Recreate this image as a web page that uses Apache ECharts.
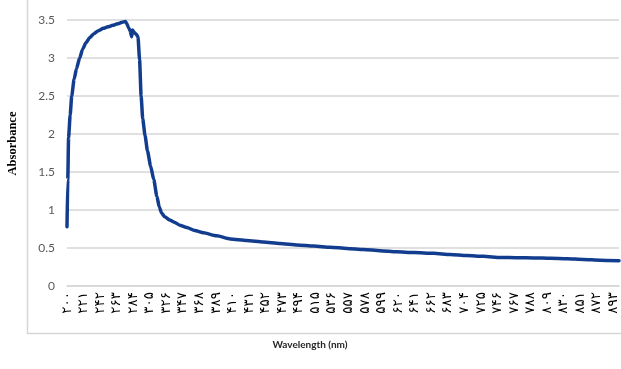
<!DOCTYPE html>
<html>
<head>
<meta charset="utf-8">
<title>Absorbance spectrum</title>
<script src="https://cdn.jsdelivr.net/npm/echarts@6/dist/echarts.min.js"></script>
<style>
  html, body { margin: 0; padding: 0; background: #ffffff; }
  #chart { width: 621px; height: 369px; }
</style>
</head>
<body>
<div id="chart"></div>
<script>
// Measured spectrum: wavelength (nm) and absorbance
const wavelength = [
  200, 201, 202, 204, 206, 209, 212, 216, 220, 224, 229, 234, 240, 246, 252, 258,
  264, 270, 274, 276, 278, 280, 282, 283, 285, 288, 290, 292, 294, 296, 299, 302,
  306, 310, 314, 317, 320, 324, 330, 336, 343, 352, 362, 373, 390, 407, 428, 449,
  470, 492, 513, 534, 555, 576, 597, 618, 640, 665, 686, 707, 728, 750, 771, 792,
  813, 834, 855, 876, 900
];
const absorbance = [
  0.78, 1.40, 1.95, 2.25, 2.50, 2.72, 2.86, 3.00, 3.12, 3.20, 3.27, 3.32, 3.36, 3.39, 3.41, 3.43,
  3.45, 3.47, 3.48, 3.45, 3.40, 3.36, 3.28, 3.37, 3.34, 3.31, 3.28, 2.98, 2.50, 2.20, 1.98, 1.78,
  1.58, 1.40, 1.18, 1.04, 0.96, 0.91, 0.87, 0.84, 0.80, 0.77, 0.73, 0.70, 0.66, 0.62, 0.60, 0.58,
  0.56, 0.54, 0.525, 0.51, 0.495, 0.48, 0.465, 0.45, 0.44, 0.43, 0.415, 0.40, 0.39, 0.376, 0.372, 0.37,
  0.365, 0.36, 0.35, 0.34, 0.333
];

// Axis settings
const xRange = [200, 900];
const xStep = 21;
const yTicks = [0, 0.5, 1, 1.5, 2, 2.5, 3, 3.5];
const persianDigits = ['۰', '۱', '۲', '۳', '۴', '۵', '۶', '۷', '۸', '۹'];

const xTitle = 'Wavelength (nm)';
const yTitle = 'Absorbance';

function toPersian(v) {
  return String(Math.round(v)).replace(/[0-9]/g, d => persianDigits[+d]);
}

const chart = echarts.init(document.getElementById('chart'), null, { renderer: 'canvas' });

chart.setOption({
  animation: false,
  backgroundColor: '#ffffff',
  grid: { left: 67, right: 2, top: 20, bottom: 83 },
  xAxis: {
    type: 'value',
    min: xRange[0],
    max: xRange[1],
    interval: xStep,
    axisLine: { show: true, lineStyle: { color: '#d6d6d6', width: 1.5 } },
    axisTick: { show: false },
    splitLine: { show: false },
    axisLabel: {
      rotate: 90,
      margin: 6,
      showMaxLabel: false,
      fontFamily: 'DejaVu Sans',
      fontSize: 13.5,
      color: '#000000',
      formatter: toPersian
    }
  },
  yAxis: {
    type: 'value',
    min: yTicks[0],
    max: yTicks[yTicks.length - 1],
    interval: yTicks[1] - yTicks[0],
    axisLine: { show: false },
    axisTick: { show: false },
    splitLine: { show: true, lineStyle: { color: '#d6d6d6', width: 1.5 } },
    axisLabel: {
      margin: 12,
      fontFamily: 'Lato',
      fontSize: 12,
      color: '#595959'
    }
  },
  graphic: [
    {
      type: 'rect',
      silent: true,
      shape: { x: 27.5, y: -2, width: 700, height: 335.5 },
      style: { fill: null, stroke: '#d6d6d6', lineWidth: 1.5 },
      z: -10
    },
    {
      type: 'text',
      silent: true,
      x: 12.5,
      y: 143.5,
      rotation: Math.PI / 2,
      style: {
        text: yTitle,
        fontFamily: 'Liberation Serif',
        fontWeight: 'bold',
        fontSize: 12.5,
        fill: '#000000',
        align: 'center',
        verticalAlign: 'middle'
      }
    },
    {
      type: 'text',
      silent: true,
      x: 310,
      y: 345,
      style: {
        text: xTitle,
        fontFamily: 'Lato',
        fontWeight: 'bold',
        fontSize: 10,
        fill: '#262626',
        align: 'center',
        verticalAlign: 'middle'
      }
    }
  ],
  series: [{
    type: 'line',
    data: wavelength.map((w, i) => [w, absorbance[i]]),
    showSymbol: false,
    smooth: 0.2,
    smoothMonotone: 'x',
    lineStyle: { color: '#123d8e', width: 3.5, cap: 'round', join: 'round' }
  }]
});
</script>
</body>
</html>
